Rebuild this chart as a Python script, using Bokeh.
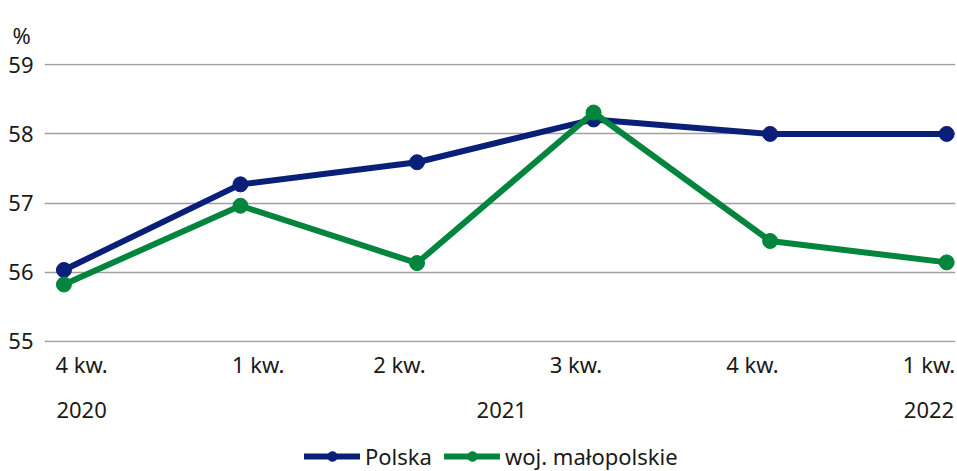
from bokeh.plotting import figure
from bokeh.layouts import column
from bokeh.models import Range1d, FixedTicker, LinearAxis, Legend, LegendItem, Title
from bokeh.embed import file_html
from bokeh.resources import INLINE

# ---- data ----
quarters = ["4 kw.", "1 kw.", "2 kw.", "3 kw.", "4 kw.", "1 kw."]
quarter_pos = [0.1, 1.1, 1.9, 2.9, 3.9, 4.9]
years = ["2020", "2021", "2022"]
year_pos = [0.1, 2.48, 4.9]
x_idx = [0, 1, 2, 3, 4, 5]
polska = [56.03, 57.27, 57.59, 58.21, 58.0, 58.0]
malopolskie = [55.82, 56.96, 56.13, 58.31, 56.45, 56.14]
y_ticks = [55, 56, 57, 58, 59]
series_names = ["Polska", "woj. małopolskie"]

FONT = "Noto Sans"
NAVY = "#0a1f78"
GREEN = "#04853d"
TXT = "#1a1a1a"
FS = "22px"

p = figure(width=957, height=441, output_backend="svg", toolbar_location=None,
           x_range=Range1d(-0.11, 5.05), y_range=Range1d(54.98, 59.02),
           min_border_left=44, min_border_right=2, min_border_top=63, min_border_bottom=99,
           x_axis_location=None)
p.outline_line_color = None
p.xgrid.visible = False
p.ygrid.ticker = FixedTicker(ticks=y_ticks)
p.ygrid.grid_line_color = "#a0a0a0"
p.ygrid.grid_line_width = 1.5

# y axis
p.yaxis.ticker = FixedTicker(ticks=y_ticks)
p.yaxis.axis_line_color = None
p.yaxis.major_tick_line_color = None
p.yaxis.minor_tick_line_color = None
p.yaxis.major_tick_out = 0
p.yaxis.major_label_standoff = 11
p.yaxis.major_label_text_font = FONT
p.yaxis.major_label_text_font_size = FS
p.yaxis.major_label_text_color = TXT

# x axes
def make_xaxis(ticks, labels, standoff):
    ax = LinearAxis(ticker=FixedTicker(ticks=ticks),
                    major_label_overrides={t: l for t, l in zip(ticks, labels)})
    ax.axis_line_color = None
    ax.major_tick_line_color = None
    ax.minor_tick_line_color = None
    ax.major_tick_out = 0
    ax.major_label_standoff = standoff
    ax.major_label_text_font = FONT
    ax.major_label_text_font_size = FS
    ax.major_label_text_color = TXT
    return ax

p.add_layout(make_xaxis(quarter_pos, quarters, 6), "below")
p.add_layout(make_xaxis(year_pos, years, 20), "below")

# title "%"
p.add_layout(Title(text="%", align="left", vertical_align="top", offset=-32, standoff=24,
                   text_font=FONT, text_font_size=FS, text_font_style="normal",
                   text_color=TXT), "above")

# series
p.line(x_idx, polska, line_color=NAVY, line_width=6)
p.scatter(x_idx, polska, size=15, fill_color=NAVY, line_color=NAVY)
p.line(x_idx, malopolskie, line_color=GREEN, line_width=6)
p.scatter(x_idx, malopolskie, size=15, fill_color=GREEN, line_color=GREEN)

# legend strip (series drawn outside its visible range, only legend shows)
lg = figure(width=957, height=30, output_backend="svg", toolbar_location=None,
            x_range=Range1d(0, 1), y_range=Range1d(0, 1),
            min_border_left=0, min_border_right=0, min_border_top=0, min_border_bottom=0,
            x_axis_location=None, y_axis_location=None)
lg.outline_line_color = None
lg.grid.visible = False
items = []
for name, col, vals in zip(series_names, [NAVY, GREEN], [polska, malopolskie]):
    rl = lg.line(x_idx, vals, line_color=col, line_width=6, line_cap="round")
    rc = lg.scatter(x_idx, vals, size=11, fill_color=col, line_color=col)
    items.append(LegendItem(label=name, renderers=[rl, rc]))
legend = Legend(items=items, orientation="horizontal", location=(260, 0),
                border_line_color=None, background_fill_alpha=0,
                label_text_font=FONT, label_text_font_size=FS, label_text_color=TXT,
                glyph_width=56, glyph_height=24, spacing=12, padding=2, margin=0,
                label_standoff=5)
lg.add_layout(legend, "center")

layout = column(p, lg, spacing=0)
open("out.html", "w").write(file_html(layout, INLINE))
